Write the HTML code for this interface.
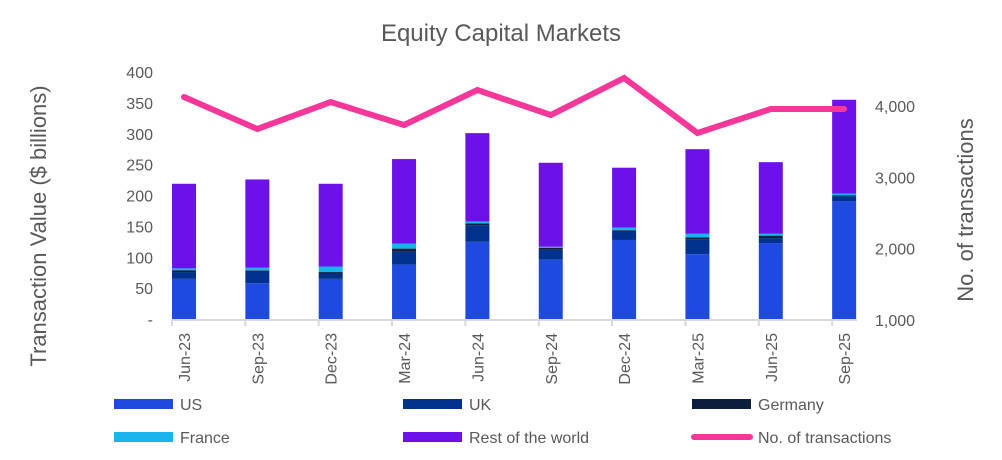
<!DOCTYPE html>
<html><head><meta charset="utf-8"><style>
body{margin:0;background:#fff;}
svg{display:block;font-family:"Liberation Sans",Arial,sans-serif;}
</style></head><body>
<svg id="chart" width="1002" height="460">
<text x="501" y="41" text-anchor="middle" font-size="24" fill="#595959">Equity Capital Markets</text>
<text transform="translate(46,226) rotate(-90)" text-anchor="middle" font-size="22" fill="#595959">Transaction Value ($ billions)</text>
<text transform="translate(973,210) rotate(-90)" text-anchor="middle" font-size="22" fill="#595959">No. of transactions</text>
<g id="plot"></g>
<g id="legend"></g>
</svg>
<script>
const categories=["Jun-23","Sep-23","Dec-23","Mar-24","Jun-24","Sep-24","Dec-24","Mar-25","Jun-25","Sep-25"];
const us=[65,58,65,88,125,96,128,105,123,191];
const uk=[11,20,8,21,27,16,15,24,8,8];
const germany=[3,1,3,5,3,3,1,3,4,1];
const france=[3,4,9,8,3,2,4,6,3,3];
const restOfWorld=[137,143,134,137,143,136,97,137,116,152];
const transactions=[4128,3679,4057,3735,4226,3875,4394,3623,3959,3959];
const leftTicks=[0,50,100,150,200,250,300,350,400];
const rightTicks=[1000,2000,3000,4000];

const NS="http://www.w3.org/2000/svg";
const plot=document.getElementById('plot');
const legend=document.getElementById('legend');
function mk(tag,attrs,parent){const e=document.createElementNS(NS,tag);for(const k in attrs)e.setAttribute(k,attrs[k]);parent.appendChild(e);return e;}
const y0=319,yTop=72;
function yL(v){return y0-(v/400)*(y0-yTop);}
function yR(v){return 320-(v-1000)/1000*71.3;}
function xTick(i){return 172+i*73.35;}
const barW=24;
// left ticks
leftTicks.forEach(v=>{const t=mk('text',{x:153,y:yL(v)+6,'text-anchor':'end','font-size':16,fill:'#595959'},plot);t.textContent=v===0?'-':v;

});
rightTicks.forEach(v=>{const t=mk('text',{x:875,y:yR(v)+6,'font-size':16,fill:'#595959'},plot);t.textContent=v.toLocaleString('en-US');

});
// axis
const ax=mk('line',{x1:172,x2:857,y1:320,y2:320,stroke:'#d9d9d9','stroke-width':2},plot);


const series=[[us,'#1f4ae0','us'],[uk,'#00318c','uk'],[germany,'#0a1f3d','germany'],[france,'#18b4ee','france'],[restOfWorld,'#6c12e8','rest-of-world']];
categories.forEach((c,i)=>{
  const x=xTick(i);
  const tk=mk('line',{x1:x,x2:x,y1:320,y2:326,stroke:'#d9d9d9','stroke-width':2},plot);
  
  
  let acc=0;
  series.forEach(([arr,col,nm])=>{
    const v=arr[i];
    const r=mk('rect',{x:x,y:yL(acc+v),width:barW,height:yL(acc)-yL(acc+v),fill:col},plot);
    
    
    acc+=v;
  });
  const t=mk('text',{transform:`translate(${x+barW/2+6},333) rotate(-90)`,'text-anchor':'end','font-size':16,fill:'#595959'},plot);
  t.textContent=c;
  
  
});
const pts=transactions.map((v,i)=>(xTick(i)+barW/2)+','+yR(v)).join(' ');
const pl=mk('polyline',{points:pts,fill:'none',stroke:'#f5379a','stroke-width':6,'stroke-linejoin':'miter','stroke-linecap':'round'},plot);


// legend
const items=[['US','#1f4ae0',114,399,'bar'],['UK','#00318c',403,399,'bar'],['Germany','#0a1f3d',692,399,'bar'],['France','#18b4ee',114,432,'bar'],['Rest of the world','#6c12e8',403,432,'bar'],['No. of transactions','#f5379a',692,432,'line']];
items.forEach(([lab,col,x,y,kind])=>{
  const g=mk('g',{},legend);
  
  
  if(kind==='bar')mk('rect',{x:x,y:y,width:59,height:10,fill:col},g);
  else mk('line',{x1:x+2,x2:x+58,y1:y+5,y2:y+5,stroke:col,'stroke-width':6,'stroke-linecap':'round'},g);
  const t=mk('text',{x:x+66,y:y+11,'font-size':16,fill:'#595959'},g);t.textContent=lab;
});
</script>
</body></html>
